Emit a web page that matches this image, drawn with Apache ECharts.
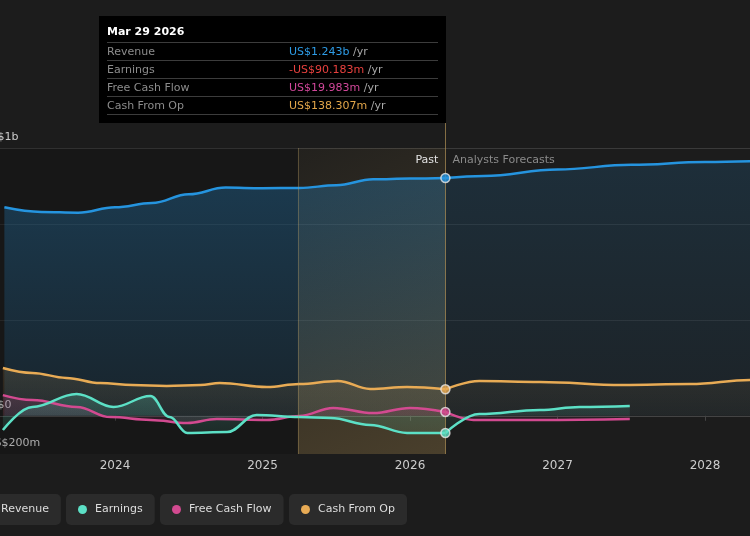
<!DOCTYPE html>
<html>
<head>
<meta charset="utf-8">
<script src="https://cdn.jsdelivr.net/npm/echarts@6.0.0/dist/echarts.min.js"></script>
<style>
  html, body { margin: 0; padding: 0; background: #1c1c1c; }
  #chart { width: 750px; height: 536px; }
</style>
</head>
<body>
<div id="chart"></div>
<script>
// data, values in US$ millions, x in decimal years
const revenuePast = [[2023.25, 1090], [2023.5, 1066], [2023.75, 1062], [2024.0, 1090], [2024.25, 1112],
  [2024.5, 1158], [2024.75, 1193], [2025.0, 1190], [2025.25, 1191], [2025.5, 1205], [2025.75, 1236],
  [2026.0, 1240], [2026.24, 1243]];
const revenueForecast = [[2026.24, 1243], [2026.5, 1254], [2027.0, 1288], [2027.5, 1312], [2028.0, 1327], [2028.5, 1337]];

const earningsPast = [[2023.24, -75], [2023.44, 46], [2023.74, 114], [2023.99, 46], [2024.24, 103],
  [2024.37, -7], [2024.49, -90], [2024.76, -85], [2024.96, 4], [2025.25, -7], [2025.46, -12],
  [2025.73, -48], [2025.98, -90], [2026.24, -90]];
const earningsForecast = [[2026.24, -90], [2026.47, 9], [2026.88, 30], [2027.15, 46], [2027.49, 51]];

const fcfPast = [[2023.24, 108], [2023.44, 82], [2023.74, 46], [2023.97, -7], [2024.24, -22],
  [2024.49, -38], [2024.69, -17], [2025.03, -22], [2025.25, -1], [2025.48, 41], [2025.75, 14],
  [2026.0, 41], [2026.24, 20]];
const fcfForecast = [[2026.24, 20], [2026.43, -22], [2026.88, -22], [2027.49, -17]];

const cashPast = [[2023.24, 250], [2023.44, 224], [2023.67, 198], [2023.9, 171], [2024.12, 161],
  [2024.35, 156], [2024.58, 161], [2024.71, 171], [2025.03, 150], [2025.25, 166], [2025.51, 182],
  [2025.73, 140], [2025.98, 150], [2026.24, 138]];
const cashForecast = [[2026.24, 138], [2026.47, 182], [2026.88, 177], [2027.44, 161], [2027.9, 166],
  [2028.31, 187], [2028.5, 195]];

const seriesNames = ['Revenue', 'Earnings', 'Free Cash Flow', 'Cash From Op'];
const seriesColors = ['#2594df', '#5ce0c6', '#d24a90', '#e8ab55'];

const pastStart = 2025.24;
const forecastStart = 2026.24;
const tipDate = 'Mar 29 2026';
const tipValues = [1243, -90.183, 19.983, 138.307];
const tipTexts = ['US$1.243b', '-US$90.183m', 'US$19.983m', 'US$138.307m'];
const tipTextColors = ['#2d9be5', '#e8413e', '#d1479a', '#e3a64a'];

const yTickValues = [-200, 0, 1400];
const yTickLabels = ['-US$200m', 'US$0', 'US$1b'];
const xMin = 2023, xMax = 2028.5, yMin = -200, yMax = 1400;

const FONT = 'DejaVu Sans';

// split line colours per tick (-200, -100, 0, ... 1400)
const splitColors = [];
for (let v = yMin; v <= yMax; v += 100) {
  if (v === 0) splitColors.push('#e8e8e8');
  else if (v === 500 || v === 1000) splitColors.push('rgba(255,255,255,0.08)');
  else if (v === 1400) splitColors.push('#3a3a3a');
  else splitColors.push('rgba(0,0,0,0)');
}

function areaGrad(color, a1, a2) {
  return new echarts.graphic.LinearGradient(0, 0, 0, 1, [
    { offset: 0, color: echarts.color.modifyAlpha(color, a1) },
    { offset: 1, color: echarts.color.modifyAlpha(color, a2) },
  ]);
}

function lineSeries(i, data, past) {
  const c = seriesColors[i];
  const alphas = [[0.4, 0.15], [0.3, 0.14], [0.24, 0.14], [0.2, 0.08]];
  const f = past ? 1 : 0.55;
  return {
    type: 'line',
    name: seriesNames[i],
    data: data,
    smooth: 0.4,
    smoothMonotone: 'x',
    showSymbol: false,
    color: c,
    lineStyle: { color: c, width: 2.5 },
    areaStyle: { color: areaGrad(c, alphas[i][0] * f, alphas[i][1] * f) },
    z: 3,
  };
}

const chart = echarts.init(document.getElementById('chart'));

const legends = seriesNames.map((n, i) => ({
  data: [{ name: n, icon: 'circle' }],
  left: [-28, 66, 160, 289][i],
  top: 494,
  backgroundColor: '#2b2b2b',
  borderRadius: 5,
  padding: [10, 12, 10, 12],
  itemWidth: 9,
  itemHeight: 9,
  selectedMode: false,
  textStyle: { color: '#dddddd', fontSize: 11, fontFamily: FONT, padding: [0, 0, 0, 3] },
}));

const option = {
  animation: false,
  backgroundColor: '#1c1c1c',
  textStyle: { fontFamily: FONT },
  grid: { left: -32.5, right: -28.75, top: 148, bottom: 82, outerBoundsMode: 'none', containLabel: false },
  legend: legends,
  tooltip: {
    trigger: 'item',
    triggerOn: 'none',
    alwaysShowContent: true,
    transitionDuration: 0,
    position: [99, 16],
    backgroundColor: '#000000',
    borderWidth: 0,
    padding: 8,
    extraCssText: 'box-shadow:none;border-radius:0;',
    formatter: function () {
      let html = '<div style="width:331px;font-family:' + FONT + ';font-size:11px;">' +
        '<div style="font-weight:bold;color:#fff;line-height:16px;margin-bottom:2px;">' + tipDate + '</div>';
      seriesNames.forEach((n, i) => {
        html += '<div style="border-top:1px solid #3c3c3c;height:17px;line-height:17px;position:relative;' +
          (i === seriesNames.length - 1 ? 'border-bottom:1px solid #3c3c3c;' : '') + '">' +
          '<span style="color:#8c8c8c;">' + n + '</span>' +
          '<span style="position:absolute;left:182px;"><span style="color:' + tipTextColors[i] + ';">' +
          tipTexts[i] + '</span><span style="color:#a8a8a8;"> /yr</span></span></div>';
      });
      return html + '</div>';
    },
  },
  xAxis: {
    type: 'value',
    min: xMin,
    max: xMax,
    interval: 1,
    axisLine: { show: true, lineStyle: { color: '#444444', width: 1 } },
    axisTick: { show: true, length: 5, lineStyle: { color: '#444444' } },
    splitLine: { show: false },
    axisLabel: {
      color: '#cccccc',
      fontSize: 12,
      fontFamily: FONT,
      margin: 6,
      formatter: (v) => (Number.isInteger(v) ? String(v) : ''),
    },
  },
  yAxis: {
    type: 'value',
    min: yMin,
    max: yMax,
    interval: 100,
    axisLine: { show: false },
    axisTick: { show: false },
    splitLine: { show: true, lineStyle: { color: splitColors, width: 1 } },
    axisLabel: {
      inside: true,
      margin: 15,
      color: '#cccccc',
      fontSize: 11,
      fontFamily: FONT,
      verticalAlign: 'bottom',
      padding: [0, 0, 5, 0],
      formatter: (v) => {
        const k = yTickValues.indexOf(v);
        return k >= 0 ? yTickLabels[k] : '';
      },
    },
  },
  series: [
    {
      // background bands
      type: 'line',
      data: [],
      silent: true,
      z: 1,
      markArea: {
        silent: true,
        data: [
          [{ xAxis: xMin, itemStyle: { color: 'rgba(0,0,0,0.16)' } }, { xAxis: pastStart }],
          [{
            xAxis: pastStart,
            itemStyle: {
              color: new echarts.graphic.LinearGradient(0, 0, 1, 1, [
                { offset: 0, color: 'rgba(200,160,80,0.04)' },
                { offset: 1, color: 'rgba(205,165,90,0.26)' },
              ]),
            },
            label: { show: true, position: 'insideTopRight', distance: 7, formatter: 'Past',
              color: '#e2e2e2', fontSize: 11, fontFamily: FONT },
          }, { xAxis: forecastStart }],
          [{
            xAxis: forecastStart,
            itemStyle: { color: 'rgba(0,0,0,0)' },
            label: { show: true, position: 'insideTopLeft', distance: 7, formatter: 'Analysts Forecasts',
              color: '#8a8a8a', fontSize: 11, fontFamily: FONT },
          }, { xAxis: xMax }],
        ],
      },
      markLine: {
        silent: true,
        symbol: 'none',
        label: { show: false },
        lineStyle: { color: 'rgba(190,160,100,0.35)', type: 'solid', width: 1 },
        data: [{ xAxis: pastStart }],
      },
    },
    lineSeries(0, revenuePast, true),
    lineSeries(0, revenueForecast, false),
    lineSeries(3, cashPast, true),
    lineSeries(3, cashForecast, false),
    lineSeries(2, fcfPast, true),
    lineSeries(2, fcfForecast, false),
    lineSeries(1, earningsPast, true),
    lineSeries(1, earningsForecast, false),
    {
      type: 'scatter',
      name: 'marker',
      z: 5,
      symbolSize: 9,
      data: tipValues.map((v, i) => ({
        value: [forecastStart, v],
        itemStyle: { color: seriesColors[i], borderColor: '#e6e6e6', borderWidth: 1.5 },
      })),
    },
  ],
};

chart.setOption(option);

// vertical marker line from the tooltip down to the x axis
const lx = Math.round(chart.convertToPixel({ xAxisIndex: 0 }, forecastStart)) + 0.5;
const ly = chart.convertToPixel({ yAxisIndex: 0 }, yMin);
chart.setOption({
  graphic: [{
    type: 'line',
    silent: true,
    z: 4,
    shape: { x1: lx, y1: 122, x2: lx, y2: ly },
    style: { stroke: 'rgba(176,146,86,0.7)', lineWidth: 1 },
  }],
});

chart.dispatchAction({ type: 'showTip', seriesIndex: 9, dataIndex: 0 });
</script>
</body>
</html>
